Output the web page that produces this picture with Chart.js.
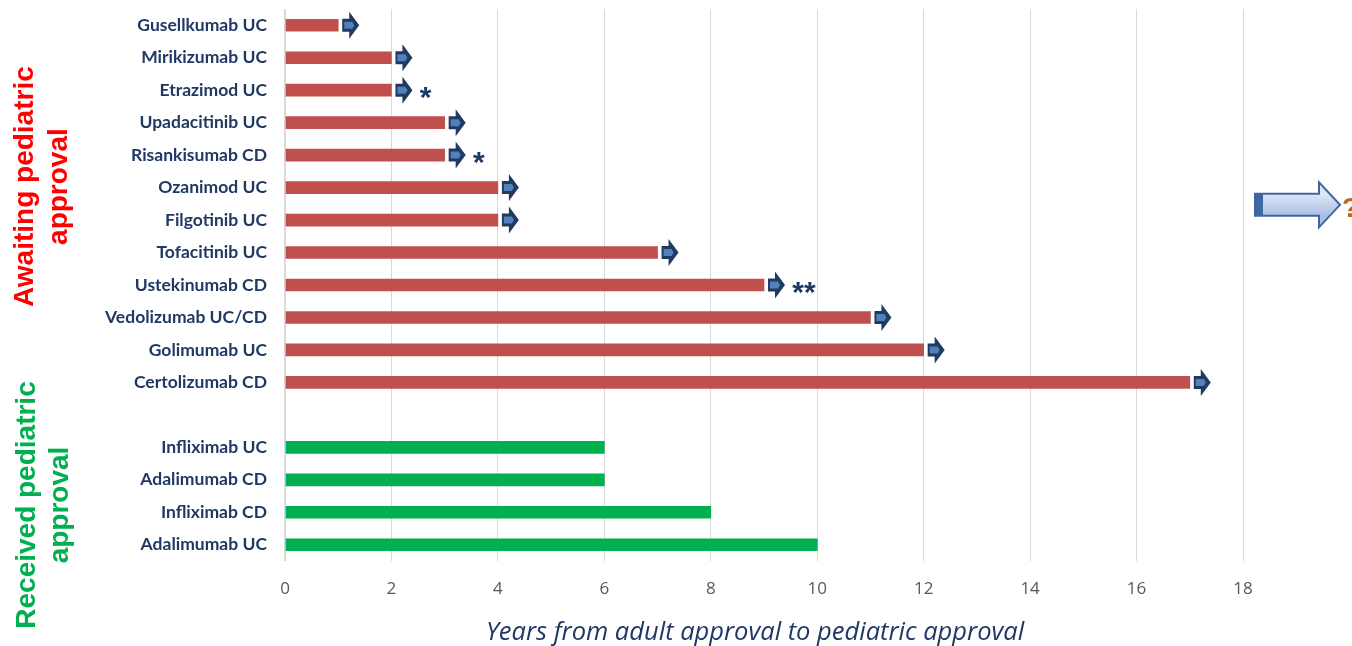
<!DOCTYPE html>
<html>
<head>
<meta charset="utf-8">
<script src="https://cdn.jsdelivr.net/npm/chart.js@4.4.1/dist/chart.umd.min.js"></script>
<style>
  html, body { margin: 0; padding: 0; background: #ffffff; }
  #wrap { width: 1352px; height: 646px; }
</style>
</head>
<body>
<div id="wrap"><canvas id="chart" width="1352" height="646"></canvas></div>
<script>
// Therapies, top to bottom; the empty entry separates the two groups
const drugs = [
  'Gusellkumab UC', 'Mirikizumab UC', 'Etrazimod UC', 'Upadacitinib UC',
  'Risankisumab CD', 'Ozanimod UC', 'Filgotinib UC', 'Tofacitinib UC',
  'Ustekinumab CD', 'Vedolizumab UC/CD', 'Golimumab UC', 'Certolizumab CD',
  '',
  'Infliximab UC', 'Adalimumab CD', 'Infliximab CD', 'Adalimumab UC'
];

// Years elapsed since adult approval, still waiting for pediatric approval
const awaitingYears = [1, 2, 2, 3, 3, 4, 4, 7, 9, 11, 12, 17, null, null, null, null, null];

// Years from adult approval until pediatric approval was granted
const receivedYears = [null, null, null, null, null, null, null, null, null, null, null, null, null, 6, 6, 8, 10];

// Footnote marks shown next to some bars
const footnotes = ['', '', '*', '', '*', '', '', '', '**', '', '', '', '', '', '', '', ''];

// X axis ticks
const xTicks = [0, 2, 4, 6, 8, 10, 12, 14, 16, 18];

const groupLabels = [
  { lines: ['Awaiting pediatric', 'approval'], color: '#FF0000' },
  { lines: ['Received pediatric', 'approval'], color: '#00B050' }
];
const axisTitle = 'Years from adult approval to pediatric approval';

function arrowPath(ctx, x, y, bodyW, bodyH, headW, headH) {
  ctx.beginPath();
  ctx.moveTo(x, y - bodyH / 2);
  ctx.lineTo(x + bodyW, y - bodyH / 2);
  ctx.lineTo(x + bodyW, y - headH / 2);
  ctx.lineTo(x + bodyW + headW, y);
  ctx.lineTo(x + bodyW, y + headH / 2);
  ctx.lineTo(x + bodyW, y + bodyH / 2);
  ctx.lineTo(x, y + bodyH / 2);
  ctx.closePath();
}

// Small "still pending" arrows and footnote marks after the waiting bars
const pendingArrows = {
  id: 'pendingArrows',
  afterDatasetsDraw(chart) {
    const ctx = chart.ctx;
    const meta = chart.getDatasetMeta(0);
    ctx.save();
    meta.data.forEach((bar, i) => {
      if (awaitingYears[i] == null) return;
      const x0 = bar.x + 4;
      const y = bar.y;
      arrowPath(ctx, x0, y, 7, 13, 10, 27);
      ctx.fillStyle = '#213A5F';
      ctx.fill();
      ctx.fillStyle = '#4F81BD';
      ctx.beginPath();
      ctx.moveTo(x0 + 2, y - 3.5);
      ctx.lineTo(x0 + 10, y - 3.5);
      ctx.lineTo(x0 + 12, y);
      ctx.lineTo(x0 + 10, y + 3.5);
      ctx.lineTo(x0 + 2, y + 3.5);
      ctx.closePath();
      ctx.fill();
      const note = footnotes[i];
      if (note) {
        ctx.font = 'italic bold 30px "Liberation Sans", Arial, sans-serif';
        ctx.fillStyle = '#1F3864';
        ctx.textAlign = 'left';
        ctx.textBaseline = 'alphabetic';
        ctx.fillText(note, x0 + 23, y + 17);
      }
    });
    ctx.restore();
  },
  afterDraw(chart) {
    const ctx = chart.ctx;
    const yScale = chart.scales.y;
    const area = chart.chartArea;
    ctx.save();

    // Rotated group captions on the left
    const centers = [yScale.getPixelForValue(5) - 1, area.bottom - 56];
    groupLabels.forEach((g, k) => {
      ctx.save();
      ctx.translate(0, centers[k]);
      ctx.rotate(-Math.PI / 2);
      ctx.font = 'bold 28px "Liberation Sans", Arial, sans-serif';
      ctx.fillStyle = g.color;
      ctx.textAlign = 'center';
      ctx.textBaseline = 'alphabetic';
      ctx.fillText(g.lines[0], 0, 33 + k * 2);
      ctx.fillText(g.lines[1], 0, 67 + k * 1);
      ctx.restore();
    });

    // X axis title, centred slightly left of the plot middle
    ctx.font = 'italic 25.5px "Open Sans", sans-serif';
    ctx.fillStyle = '#1F3864';
    ctx.textAlign = 'center';
    ctx.textBaseline = 'alphabetic';
    ctx.fillText(axisTitle, (area.left + area.right) / 2 - 9, 640);

    // Large outlined arrow with a question mark to the right of the plot
    const ay = (yScale.getPixelForValue(5) + yScale.getPixelForValue(6)) / 2 + 1;
    const ax = area.right + 12;
    const grad = ctx.createLinearGradient(0, ay - 11, 0, ay + 11);
    grad.addColorStop(0, '#DDE7F5');
    grad.addColorStop(1, '#A9BFE4');
    arrowPath(ctx, ax, ay, 64, 22, 21, 45);
    ctx.fillStyle = grad;
    ctx.fill();
    ctx.fillStyle = '#3F67A6';
    ctx.fillRect(ax, ay - 11, 8, 22);
    arrowPath(ctx, ax, ay, 64, 22, 21, 45);
    ctx.strokeStyle = '#41669E';
    ctx.lineWidth = 2;
    ctx.lineJoin = 'miter';
    ctx.stroke();

    ctx.font = 'bold 28px "Liberation Sans", Arial, sans-serif';
    ctx.fillStyle = '#C0651C';
    ctx.textAlign = 'left';
    ctx.textBaseline = 'alphabetic';
    ctx.fillText('?', ax + 87, ay + 12);

    ctx.restore();
  }
};

new Chart(document.getElementById('chart'), {
  type: 'bar',
  data: {
    labels: drugs,
    datasets: [
      {
        label: 'Awaiting pediatric approval',
        data: awaitingYears,
        backgroundColor: '#C0504D',
        barThickness: 12,
        grouped: false
      },
      {
        label: 'Received pediatric approval',
        data: receivedYears,
        backgroundColor: '#00B050',
        barThickness: 12,
        grouped: false
      }
    ]
  },
  options: {
    indexAxis: 'y',
    responsive: false,
    devicePixelRatio: 1,
    animation: false,
    layout: { padding: { top: 9, right: 109, bottom: 0, left: 0 } },
    plugins: {
      legend: { display: false },
      tooltip: { enabled: false }
    },
    scales: {
      x: {
        min: 0,
        max: 18,
        afterBuildTicks(scale) {
          scale.ticks = xTicks.map(v => ({ value: v }));
        },
        afterFit(scale) {
          scale.height = 85;
          scale.paddingLeft = 0;
          scale.paddingRight = 0;
        },
        ticks: {
          color: '#595959',
          font: { family: '"Open Sans", sans-serif', size: 17 },
          padding: 18
        },
        grid: {
          color: '#D9D9D9',
          lineWidth: ctx => (ctx.index === 0 ? 2 : 1),
          drawTicks: false
        },
        border: { display: false }
      },
      y: {
        afterFit(scale) {
          scale.width = 285;
          scale.paddingTop = 0;
          scale.paddingBottom = 0;
        },
        ticks: {
          color: '#1F3864',
          font: { family: 'Lato, sans-serif', size: 17.5, weight: 'bold' },
          padding: 10,
          autoSkip: false
        },
        grid: { display: false },
        border: { display: false }
      }
    }
  },
  plugins: [pendingArrows]
});
</script>
</body>
</html>
